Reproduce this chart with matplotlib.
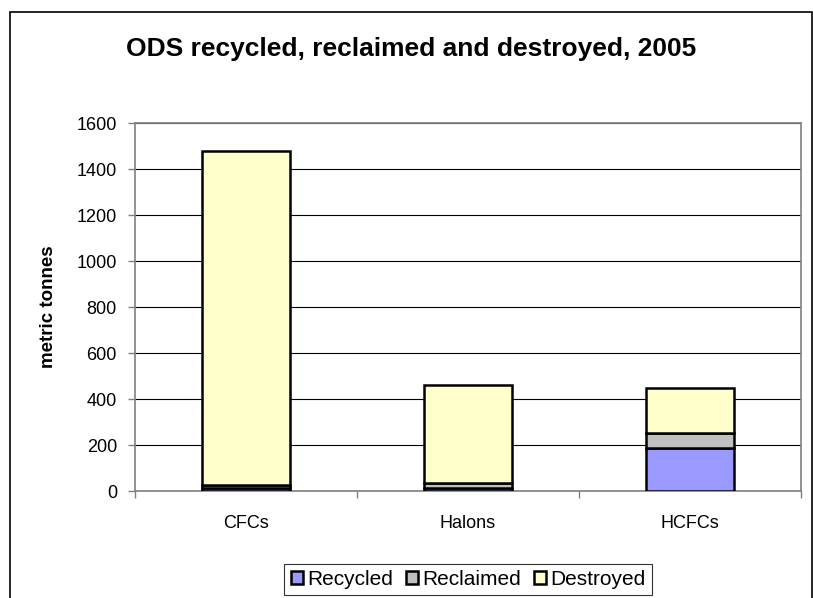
import matplotlib
matplotlib.use("Agg")
import matplotlib.pyplot as plt
from matplotlib.patches import Rectangle
import numpy as np

categories = ["CFCs", "Halons", "HCFCs"]
recycled = [12, 14, 188]
reclaimed = [14, 19, 65]
destroyed = [1452, 430, 196]
series_names = ["Recycled", "Reclaimed", "Destroyed"]
colors = ["#9999FF", "#C0C0C0", "#FFFFCC"]
yticks = [0, 200, 400, 600, 800, 1000, 1200, 1400, 1600]

plt.rcParams["font.family"] = ["Liberation Sans", "DejaVu Sans"]

fig = plt.figure(figsize=(8.13, 5.98), dpi=100)
# outer chart frame
fig.patches.append(Rectangle((10 / 813, -0.05), 802 / 813, 1 - 12 / 598 + 0.05,
                             transform=fig.transFigure, fill=False,
                             edgecolor="black", linewidth=1.2))

ax = fig.add_axes([135 / 813, 1 - 491 / 598, (801 - 135) / 813, (491 - 123) / 598])

x = np.arange(len(categories))
bottom = np.zeros(len(categories))
for vals, name, col in zip([recycled, reclaimed, destroyed], series_names, colors):
    ax.bar(x, vals, width=0.4, bottom=bottom, color=col, edgecolor="black",
           linewidth=1.8, label=name, zorder=3)
    bottom += np.array(vals)

ax.set_xlim(-0.5, len(categories) - 0.5)
ax.set_ylim(0, 1600)
ax.set_yticks(yticks)
ax.set_yticklabels([str(v) for v in yticks], fontsize=13)
ax.yaxis.grid(True, color="black", linewidth=0.8, zorder=0)
ax.set_axisbelow(True)

ax.set_xticks(x)
ax.set_xticklabels(categories, fontsize=13)
ax.tick_params(axis="x", length=0, pad=17)
ax.set_xticks(np.arange(len(categories) + 1) - 0.5, minor=True)
ax.tick_params(axis="x", which="minor", length=5, color="#808080", width=1)
ax.tick_params(axis="y", length=5, color="#808080", width=1, pad=8)

for s in ax.spines.values():
    s.set_color("#808080")
    s.set_linewidth(1.2)

ax.set_ylabel("metric tonnes", fontsize=13.5, fontweight="bold")
ax.yaxis.set_label_coords(-(135 - 57) / 666, 0.5)

fig.text(411 / 813, 1 - 49 / 598, "ODS recycled, reclaimed and destroyed, 2005",
         ha="center", va="center", fontsize=19, fontweight="bold")

leg = ax.legend(loc="center", bbox_to_anchor=(0.5, -0.2405), ncol=3, fontsize=15,
                frameon=True, fancybox=False, handlelength=0.6, handleheight=0.6,
                handletextpad=0.2, columnspacing=0.6, borderpad=0.3,
                borderaxespad=0)
leg.get_frame().set_edgecolor("black")
leg.get_frame().set_linewidth(0.8)

fig.savefig("out.png", dpi=100)
